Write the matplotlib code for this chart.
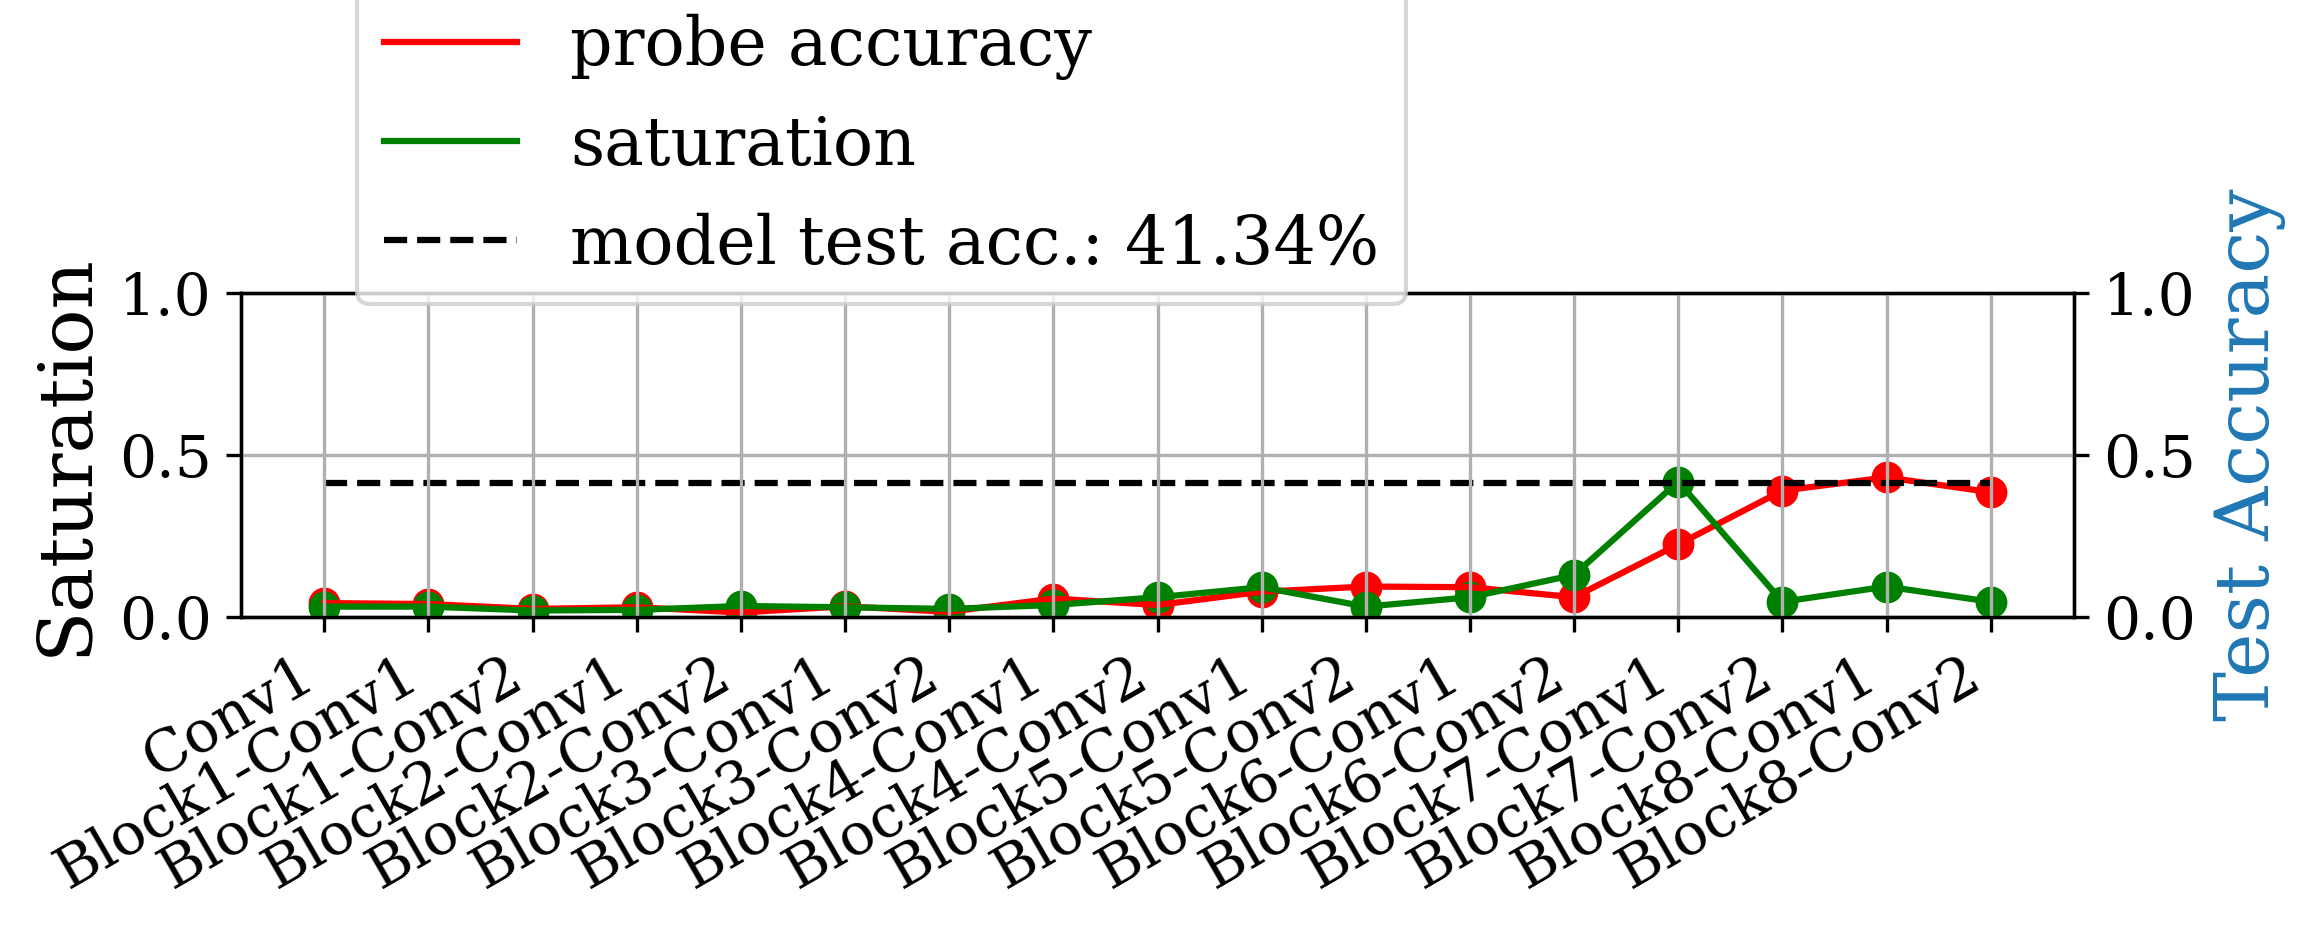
import matplotlib
matplotlib.use("Agg")
import matplotlib.pyplot as plt
from matplotlib.lines import Line2D

plt.rcParams['font.family'] = ['DejaVu Serif']

layers = ["Conv1", "Block1-Conv1", "Block1-Conv2", "Block2-Conv1", "Block2-Conv2",
          "Block3-Conv1", "Block3-Conv2", "Block4-Conv1", "Block4-Conv2", "Block5-Conv1",
          "Block5-Conv2", "Block6-Conv1", "Block6-Conv2", "Block7-Conv1", "Block7-Conv2",
          "Block8-Conv1", "Block8-Conv2"]
probe_accuracy = [0.043, 0.040, 0.025, 0.030, 0.014, 0.033, 0.016, 0.057, 0.037, 0.078,
                  0.094, 0.092, 0.061, 0.224, 0.390, 0.431, 0.385]
saturation = [0.032, 0.032, 0.020, 0.022, 0.034, 0.030, 0.025, 0.037, 0.061, 0.092,
              0.032, 0.061, 0.130, 0.418, 0.047, 0.094, 0.047]
model_test_acc = 0.4134
y_ticks = [0.0, 0.5, 1.0]

W, H, DPI = 2315, 929, 300
fig = plt.figure(figsize=(W / DPI, H / DPI), dpi=DPI)
ax = fig.add_axes([241 / W, 1 - 617 / H, (2074 - 241) / W, (617 - 293) / H])
x = list(range(len(layers)))

ax.scatter(x, probe_accuracy, color='red', s=44, zorder=2.0)
ax.scatter(x, saturation, color='green', s=44, zorder=2.05)
ax.plot(x, probe_accuracy, color='red', lw=1.5, zorder=2.1)
ax.plot(x, saturation, color='green', lw=1.5, zorder=2.15)
ax.hlines(model_test_acc, x[0], x[-1], colors='black', linestyles='dashed', lw=1.5, zorder=2.2)

ax.set_ylim(0, 1)
ax.set_yticks(y_ticks)
ax.set_xticks(x)
ax.set_xticklabels(layers, rotation=30, ha='right')
ax.tick_params(labelsize=14)
ax.set_ylabel("Saturation", fontsize=18)
ax.set_axisbelow(False)
ax.grid(True, zorder=3)

ax2 = ax.twinx()
ax2.set_ylim(0, 1)
ax2.set_yticks(y_ticks)
ax2.tick_params(labelsize=14)
ax2.set_ylabel("Test Accuracy", fontsize=18, color='#1f77b4')

handles = [Line2D([], [], color='red', lw=1.5),
           Line2D([], [], color='green', lw=1.5),
           Line2D([], [], color='black', lw=1.5, ls='--')]
labels = ["probe accuracy", "saturation", "model test acc.: 41.34%"]
fig.legend(handles, labels, loc='lower left', bbox_to_anchor=(357 / W, 1 - 304 / H),
           bbox_transform=fig.transFigure, borderaxespad=0, fontsize=16)

fig.savefig("out.png", dpi=DPI)
